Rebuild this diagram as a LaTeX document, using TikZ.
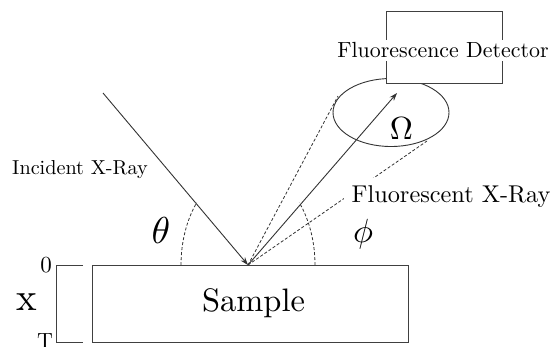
\documentclass[tikz,border=0pt]{standalone}
\usepackage{graphicx}
\usetikzlibrary{arrows.meta,shapes.geometric}
\tikzset{
  ln/.style={draw=black!80, line width=0.9pt},
  dsh/.style={draw=black!80, line width=0.8pt, dash pattern=on 3pt off 2pt},
  arr/.style={ln, -{Stealth[length=8pt,width=5.5pt]}},
  lbl/.style={inner sep=0pt, text=black},
  box/.style={draw=black!75, line width=0.9pt},
}
\newcommand{\bigtxt}[2]{\scalebox{#1}{#2}}
\begin{document}
\begin{tikzpicture}[x=1pt,y=-1pt]
\useasboundingbox (0,0) rectangle (553,346);
% coordinates
\coordinate (I) at (248,265);
\coordinate (S) at (103,93);
\coordinate (R) at (397,93);
\coordinate (TL) at (338,96);
\coordinate (TR) at (427,141);
\coordinate (B0a) at (83,265);
\coordinate (B0b) at (56,265);
\coordinate (BTa) at (83,342);
\coordinate (BTb) at (56,342);
% sample
\node[box, minimum width=316pt, minimum height=77pt, inner sep=0pt, anchor=north west] (sample) at (92,265) {};
\node[lbl] (sampletxt) at (253.5,303) {\bigtxt{3.25}{Sample}};
% bracket
\draw[box] (B0a) -- (B0b) -- (BTb) -- (BTa);
\node[lbl] (zero) at (46,265.5) {\bigtxt{2.3}{0}};
\node[lbl] (tee) at (45,341.5) {\bigtxt{2.2}{T}};
\node[lbl] (xlbl) at (27,302.5) {\bigtxt{3.9}{x}};
% ellipse
\node[draw=black!80, line width=0.9pt, ellipse, minimum width=116pt, minimum height=68pt, inner sep=0pt] (ell) at (391,112.5) {};
% dashed lines
\draw[dsh] (I) -- (TL);
\draw[dsh] (I) -- (TR);
% arcs
\draw[dsh] (181,265) arc[start angle=180, end angle=220, x radius=67, y radius=97];
\draw[dsh] (315,265) arc[start angle=0, end angle=-40, x radius=67, y radius=97];
% rays
\draw[arr] (S) -- (I);
\draw[arr] (I) -- (R);
% detector
\node[box, fill=white, minimum width=116pt, minimum height=72pt, inner sep=0pt, anchor=north west] (det) at (386,11) {};
\node[fill=white, inner sep=2.5pt] (dettxt) at (443,50.5) {\bigtxt{2.19}{Fluorescence Detector}};
\node[fill=white, inner sep=8pt] (fxr) at (451,197) {\bigtxt{2.43}{Fluorescent X-Ray}};
\node[lbl] (inc) at (80,170) {\bigtxt{2.02}{Incident X-Ray}};
\node[lbl] (theta) at (161,230) {\bigtxt{3.75}{$\theta$}};
\node[lbl] (phi) at (363,234.5) {\bigtxt{3.35}{$\phi$}};
\node[lbl] (omega) at (401.5,128.5) {\bigtxt{3.2}{$\Omega$}};
\end{tikzpicture}
\end{document}
